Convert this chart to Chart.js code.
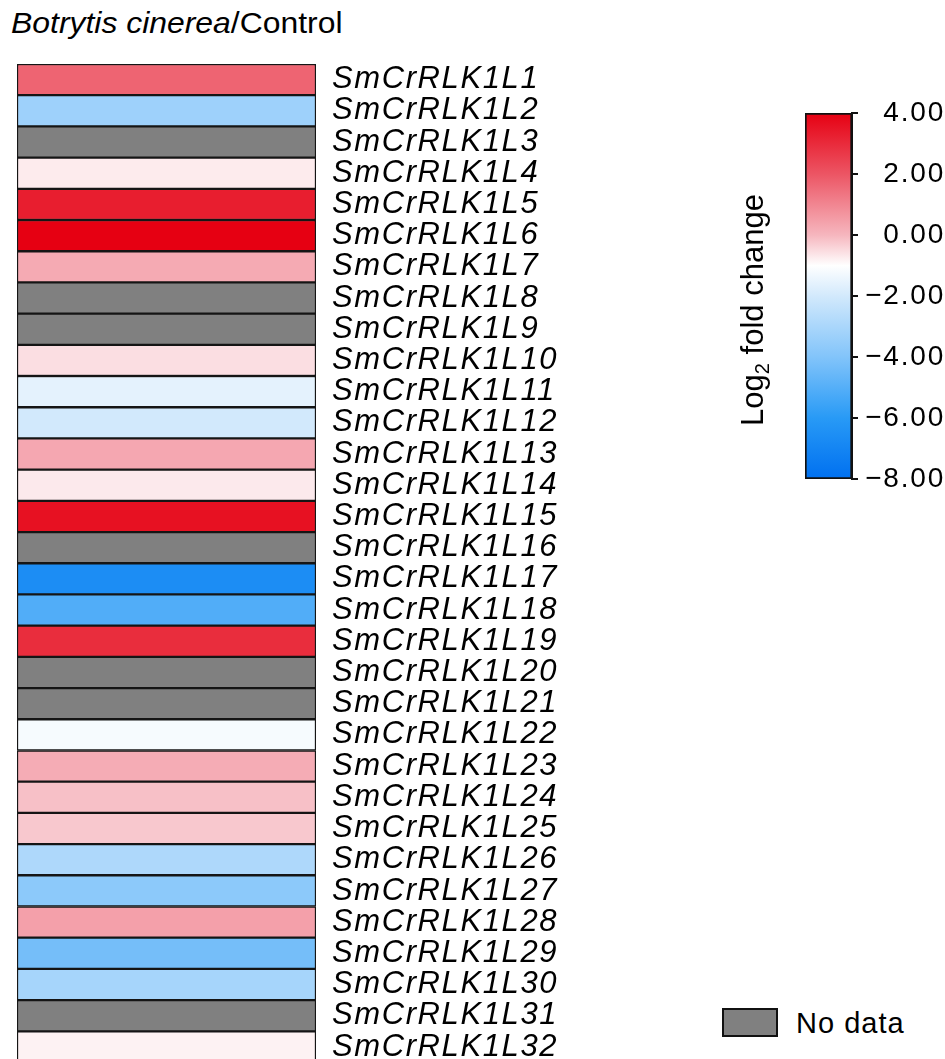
<!DOCTYPE html>
<html><head><meta charset="utf-8">
<script src="https://cdn.jsdelivr.net/npm/chart.js@4.4.1/dist/chart.umd.min.js"></script>
<style>
html,body{margin:0;padding:0;background:#fff;width:945px;height:1059px;overflow:hidden;position:relative;font-family:"Liberation Sans",Arial,sans-serif;color:#000}
#main{position:absolute;left:0;top:0}
#cb{position:absolute;left:700px;top:90px}
.t{position:absolute;white-space:nowrap}
</style></head><body>
<div class="t" id="title" style="left:11px;top:9px;font-size:29px;line-height:29px;transform:scaleX(1.1);transform-origin:0 0"><i>Botrytis cinerea</i>/Control</div>
<canvas id="main" width="600" height="1094"></canvas>
<canvas id="cb" width="245" height="410"></canvas>
<div class="t" id="cbt" style="left:603px;top:292px;width:300px;height:36px;line-height:36px;font-size:31px;text-align:center;transform:rotate(-90deg)">Log<sub style="font-size:20px;vertical-align:-6px;line-height:0">2</sub> fold change</div>
<div class="t" style="left:722px;top:1008px;width:56px;height:29px;box-sizing:border-box;background:#808080;border:2px solid #111"></div>
<div class="t" style="left:796px;top:1005px;font-size:29px;line-height:36px;letter-spacing:1px">No data</div>
<script>
const genes = ['SmCrRLK1L1','SmCrRLK1L2','SmCrRLK1L3','SmCrRLK1L4','SmCrRLK1L5','SmCrRLK1L6','SmCrRLK1L7','SmCrRLK1L8',
  'SmCrRLK1L9','SmCrRLK1L10','SmCrRLK1L11','SmCrRLK1L12','SmCrRLK1L13','SmCrRLK1L14','SmCrRLK1L15','SmCrRLK1L16',
  'SmCrRLK1L17','SmCrRLK1L18','SmCrRLK1L19','SmCrRLK1L20','SmCrRLK1L21','SmCrRLK1L22','SmCrRLK1L23','SmCrRLK1L24',
  'SmCrRLK1L25','SmCrRLK1L26','SmCrRLK1L27','SmCrRLK1L28','SmCrRLK1L29','SmCrRLK1L30','SmCrRLK1L31','SmCrRLK1L32'];
const log2fc = [1.7, -3.3, null, -0.73, 3.3, 4.0, 0.25, null,
  null, -0.55, -1.6, -2.0, 0.3, -0.7, 3.6, null,
  -6.6, -5.1, 2.95, null, null, -1.2, 0.2, -0.14,
  -0.25, -2.9, -3.75, 0.45, -4.3, -3.1, null, -0.82];
const cbTicks = [4, 2, 0, -2, -4, -6, -8];
const cbMin = -8, cbMax = 4;
const stopValues = [4, 2, 0, -1, -2, -4, -6, -8];
const stopColors = [[230,0,18],[236,85,100],[246,182,190],[255,255,255],[210,233,252],[130,196,250],[40,154,246],[0,112,240]];
const noDataColor = '#808080';
const FAMILY = '"Liberation Sans", Arial, sans-serif';

function rgb(c){ return 'rgb(' + c.map(Math.round).join(',') + ')'; }
function colorFor(v){
  if (v === null || v === undefined) return noDataColor;
  if (v >= stopValues[0]) return rgb(stopColors[0]);
  for (let i = 0; i < stopValues.length - 1; i++){
    const a = stopValues[i], b = stopValues[i+1];
    if (v <= a && v >= b){
      const t = (a - v) / (a - b);
      const ca = stopColors[i], cb = stopColors[i+1];
      return rgb(ca.map((x, k) => x + (cb[k] - x) * t));
    }
  }
  return rgb(stopColors[stopColors.length-1]);
}

const spacingPlugin = {
  id: 'ls',
  beforeUpdate(chart, args, opts){ chart.ctx.letterSpacing = opts.v || '0px'; },
  beforeDraw(chart, args, opts){ chart.ctx.letterSpacing = opts.v || '0px'; }
};

new Chart(document.getElementById('main'), {
  type: 'bar',
  data: { labels: genes, datasets: [{
    data: genes.map(() => 1),
    backgroundColor: c => colorFor(log2fc[c.dataIndex]),
    borderColor: '#151515', borderWidth: 1.5, borderSkipped: false,
    barPercentage: 1, categoryPercentage: 1
  }]},
  options: {
    responsive: false, animation: false, indexAxis: 'y', devicePixelRatio: 1,
    layout: { padding: { left: 17, top: 64, right: 0, bottom: 0 } },
    scales: {
      x: { display: false, min: 0, max: 1 },
      y: { position: 'right', grid: { display: false, drawTicks: false }, border: { display: false },
        ticks: { autoSkip: false, padding: 16, color: '#000', font: { family: FAMILY, size: 31, style: 'italic', lineHeight: 1 } },
        afterFit: s => { s.width = 284; } }
    },
    plugins: { legend: { display: false }, tooltip: { enabled: false }, ls: { v: '1.6px' } }
  },
  plugins: [spacingPlugin]
});

function gradFn(ctx){
  const chart = ctx.chart;
  if (!chart.chartArea) return null;
  const ys = chart.scales.y;
  const g = chart.ctx.createLinearGradient(0, ys.getPixelForValue(cbMin), 0, ys.getPixelForValue(cbMax));
  stopValues.forEach((v, i) => g.addColorStop((v - cbMin) / (cbMax - cbMin), rgb(stopColors[i])));
  return g;
}

new Chart(document.getElementById('cb'), {
  type: 'bar',
  data: { labels: [''], datasets: [{
    data: [[cbMin, cbMax]], backgroundColor: gradFn,
    borderColor: '#111', borderWidth: 2, borderSkipped: false,
    barPercentage: 1, categoryPercentage: 1
  }]},
  options: {
    responsive: false, animation: false, devicePixelRatio: 1,
    layout: { padding: { left: 105, top: 23, bottom: 21, right: 0 } },
    scales: {
      x: { display: false },
      y: { position: 'right', min: cbMin, max: cbMax,
        afterBuildTicks: s => { s.ticks = cbTicks.map(v => ({ value: v })); },
        grid: { drawOnChartArea: false, drawTicks: true, tickLength: 6, color: '#111', lineWidth: 2 },
        border: { display: true, color: '#111', width: 2 },
        ticks: { crossAlign: 'far', padding: 0, color: '#000', font: { family: FAMILY, size: 28, lineHeight: 1 },
          callback: v => (v < 0 ? '\u2212' : '') + Math.abs(v).toFixed(2) },
        afterFit: s => { s.width = 93; } }
    },
    plugins: { legend: { display: false }, tooltip: { enabled: false }, ls: { v: '1.8px' } }
  },
  plugins: [spacingPlugin]
});
</script>
</body></html>
